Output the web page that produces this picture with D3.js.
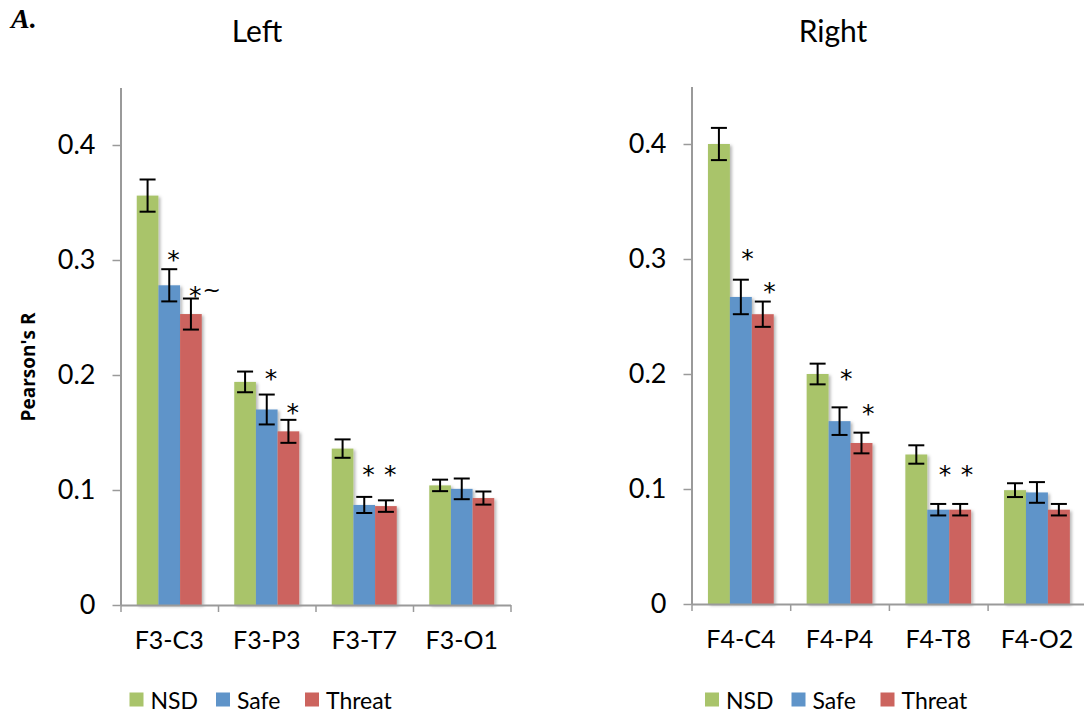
<!DOCTYPE html>
<html>
<head>
<meta charset="utf-8">
<script src="https://cdn.jsdelivr.net/npm/d3@7"></script>
<style>
  html, body { margin: 0; padding: 0; background: #fff; }
  svg { display: block; font-family: Lato, "Open Sans", sans-serif; }
</style>
</head>
<body>
<svg id="chart" width="1084" height="717"></svg>
<script>
// ---------- data ----------
const seriesNames = ["NSD", "Safe", "Threat"];
const leftCategories = ["F3-C3", "F3-P3", "F3-T7", "F3-O1"];
const rightCategories = ["F4-C4", "F4-P4", "F4-T8", "F4-O2"];

const leftNSD = [0.356, 0.194, 0.136, 0.104];
const leftSafe = [0.278, 0.170, 0.087, 0.101];
const leftThreat = [0.253, 0.151, 0.086, 0.093];
const leftNSDErr = [0.014, 0.009, 0.008, 0.005];
const leftSafeErr = [0.014, 0.013, 0.007, 0.009];
const leftThreatErr = [0.0135, 0.010, 0.005, 0.0057];

const rightNSD = [0.400, 0.200, 0.130, 0.099];
const rightSafe = [0.267, 0.159, 0.082, 0.097];
const rightThreat = [0.252, 0.140, 0.082, 0.082];
const rightNSDErr = [0.014, 0.009, 0.008, 0.006];
const rightSafeErr = [0.015, 0.012, 0.005, 0.009];
const rightThreatErr = [0.011, 0.009, 0.005, 0.005];

const yTicks = [0, 0.1, 0.2, 0.3, 0.4];
const yMax = 0.45;

// significance markers: [category index, series, label, value at marker centre]
const leftMarks = [
  [0, "Safe", "*", 0.306], [0, "Threat", "*~", 0.275],
  [1, "Safe", "*", 0.203], [1, "Threat", "*", 0.173],
  [2, "Safe", "*", 0.119], [2, "Threat", "*", 0.119]
];
const rightMarks = [
  [0, "Safe", "*", 0.306], [0, "Threat", "*", 0.277],
  [1, "Safe", "*", 0.2015], [1, "Threat", "*", 0.171],
  [2, "Safe", "*", 0.1185], [2, "Threat", "*", 0.1185]
];

const colors = { NSD: "#A9C46B", Safe: "#5F94C9", Threat: "#CC645E" };

// ---------- drawing ----------
const svg = d3.select("#chart");

const defs = svg.append("defs");
const f = defs.append("filter").attr("id", "shadow")
  .attr("x", "-20%").attr("y", "-5%").attr("width", "150%").attr("height", "115%");
f.append("feDropShadow").attr("dx", 2).attr("dy", 1.5).attr("stdDeviation", 1.5)
  .attr("flood-color", "#000").attr("flood-opacity", 0.28);

function panel(opts) {
  const { categories, values, errors, marks, x0, x1, yBottom, yTop, title, titleX, legendX, markDx } = opts;

  const y = d3.scaleLinear().domain([0, yMax]).range([yBottom, yTop]);
  const xBand = d3.scaleBand().domain(categories).range([x0, x1])
    .paddingInner(1 / 3).paddingOuter(1 / 6);
  const xSeries = d3.scaleBand().domain(seriesNames).range([0, xBand.bandwidth()]);
  const xEdges = d3.scaleLinear().domain([0, categories.length]).range([x0, x1]);

  const g = svg.append("g");

  const rows = [];
  categories.forEach((c, i) => {
    seriesNames.forEach(s => {
      rows.push({ cat: c, idx: i, series: s, v: values[s][i], e: errors[s][i] });
    });
  });

  // bars
  g.append("g").selectAll("rect").data(rows).join("rect")
    .attr("x", d => xBand(d.cat) + xSeries(d.series))
    .attr("y", d => y(d.v))
    .attr("width", xSeries.bandwidth())
    .attr("height", d => y(0) - y(d.v))
    .attr("fill", d => colors[d.series])
    .attr("filter", "url(#shadow)");

  // error bars
  const eb = g.append("g").attr("stroke", "#000").attr("stroke-width", 2).attr("fill", "none");
  const capHalf = 8;
  rows.forEach(d => {
    const cx = xBand(d.cat) + xSeries(d.series) + xSeries.bandwidth() / 2;
    eb.append("line").attr("x1", cx).attr("x2", cx).attr("y1", y(d.v + d.e)).attr("y2", y(d.v - d.e));
    eb.append("line").attr("x1", cx - capHalf).attr("x2", cx + capHalf).attr("y1", y(d.v + d.e)).attr("y2", y(d.v + d.e));
    eb.append("line").attr("x1", cx - capHalf).attr("x2", cx + capHalf).attr("y1", y(d.v - d.e)).attr("y2", y(d.v - d.e));
  });

  // markers
  marks.forEach(m => {
    const cx = xBand(categories[m[0]]) + xSeries(m[1]) + xSeries.bandwidth() / 2 + markDx;
    const t = g.append("text")
      .attr("x", cx - 5)
      .attr("y", y(m[3]) + 15)
      .attr("font-family", "'DejaVu Sans', sans-serif")
      .attr("font-size", 25);
    t.append("tspan").text("*");
    if (m[2].length > 1) {
      t.append("tspan").attr("dy", -7).attr("dx", 1).attr("font-size", 22).text(m[2].slice(1));
    }
  });

  // y axis
  const yAxis = d3.axisLeft(y).tickValues(yTicks).tickSize(8).tickSizeOuter(0).tickPadding(17)
    .tickFormat(d => d === 0 ? "0" : d3.format(".1f")(d));
  const ya = g.append("g").attr("transform", `translate(${x0},0)`).call(yAxis);
  ya.select(".domain").attr("stroke", "#9a9a9a").attr("stroke-width", 2);
  ya.selectAll(".tick line").attr("stroke", "#9a9a9a").attr("stroke-width", 1.5);
  ya.selectAll(".tick text").attr("font-size", 27).attr("font-family", "Lato, sans-serif").attr("fill", "#000");

  // x axis (category boundaries)
  const xAxis = d3.axisBottom(xEdges).tickValues(d3.range(categories.length + 1))
    .tickSize(7).tickSizeOuter(0).tickFormat("");
  const xa = g.append("g").attr("transform", `translate(0,${yBottom})`).call(xAxis);
  xa.select(".domain").attr("stroke", "#9a9a9a").attr("stroke-width", 2);
  xa.selectAll(".tick line").attr("stroke", "#9a9a9a").attr("stroke-width", 1.5);

  // category labels
  g.append("g").selectAll("text").data(categories).join("text")
    .attr("x", d => xBand(d) + xBand.bandwidth() / 2)
    .attr("y", yBottom + 44)
    .attr("text-anchor", "middle")
    .attr("font-size", 25)
    .text(d => d);

  // title
  g.append("text").attr("x", titleX).attr("y", 42).attr("text-anchor", "middle")
    .attr("font-size", 30).text(title);

  // legend
  const offsets = [0, 86.5, 175.5];
  const lg = g.append("g").attr("transform", `translate(${legendX},692.5)`);
  seriesNames.forEach((s, i) => {
    lg.append("rect").attr("x", offsets[i]).attr("y", 0).attr("width", 14).attr("height", 14).attr("fill", colors[s]);
    lg.append("text").attr("x", offsets[i] + 21).attr("y", 16.5).attr("font-size", 23).text(s);
  });
}

panel({
  categories: leftCategories,
  values: { NSD: leftNSD, Safe: leftSafe, Threat: leftThreat },
  errors: { NSD: leftNSDErr, Safe: leftSafeErr, Threat: leftThreatErr },
  marks: leftMarks,
  x0: 120.5, x1: 510.5, yBottom: 605, yTop: 87.5,
  title: "Left", titleX: 257, legendX: 129.5, markDx: 3
});

panel({
  categories: rightCategories,
  values: { NSD: rightNSD, Safe: rightSafe, Threat: rightThreat },
  errors: { NSD: rightNSDErr, Safe: rightSafeErr, Threat: rightThreatErr },
  marks: rightMarks,
  x0: 691.5, x1: 1086.3, yBottom: 604, yTop: 86.5,
  title: "Right", titleX: 833, legendX: 705, markDx: 5.5
});

// y-axis title
svg.append("text")
  .attr("transform", "translate(35,367) rotate(-90)")
  .attr("text-anchor", "middle")
  .attr("font-family", "'Open Sans', Lato, sans-serif")
  .attr("font-size", 19).attr("font-weight", 700)
  .text("Pearson's R");

// panel label
svg.append("text").attr("x", 11).attr("y", 28)
  .attr("font-family", "'Liberation Serif', 'DejaVu Serif', serif")
  .attr("font-style", "italic").attr("font-weight", 700)
  .attr("font-size", 28).text("A.");
</script>
</body>
</html>
